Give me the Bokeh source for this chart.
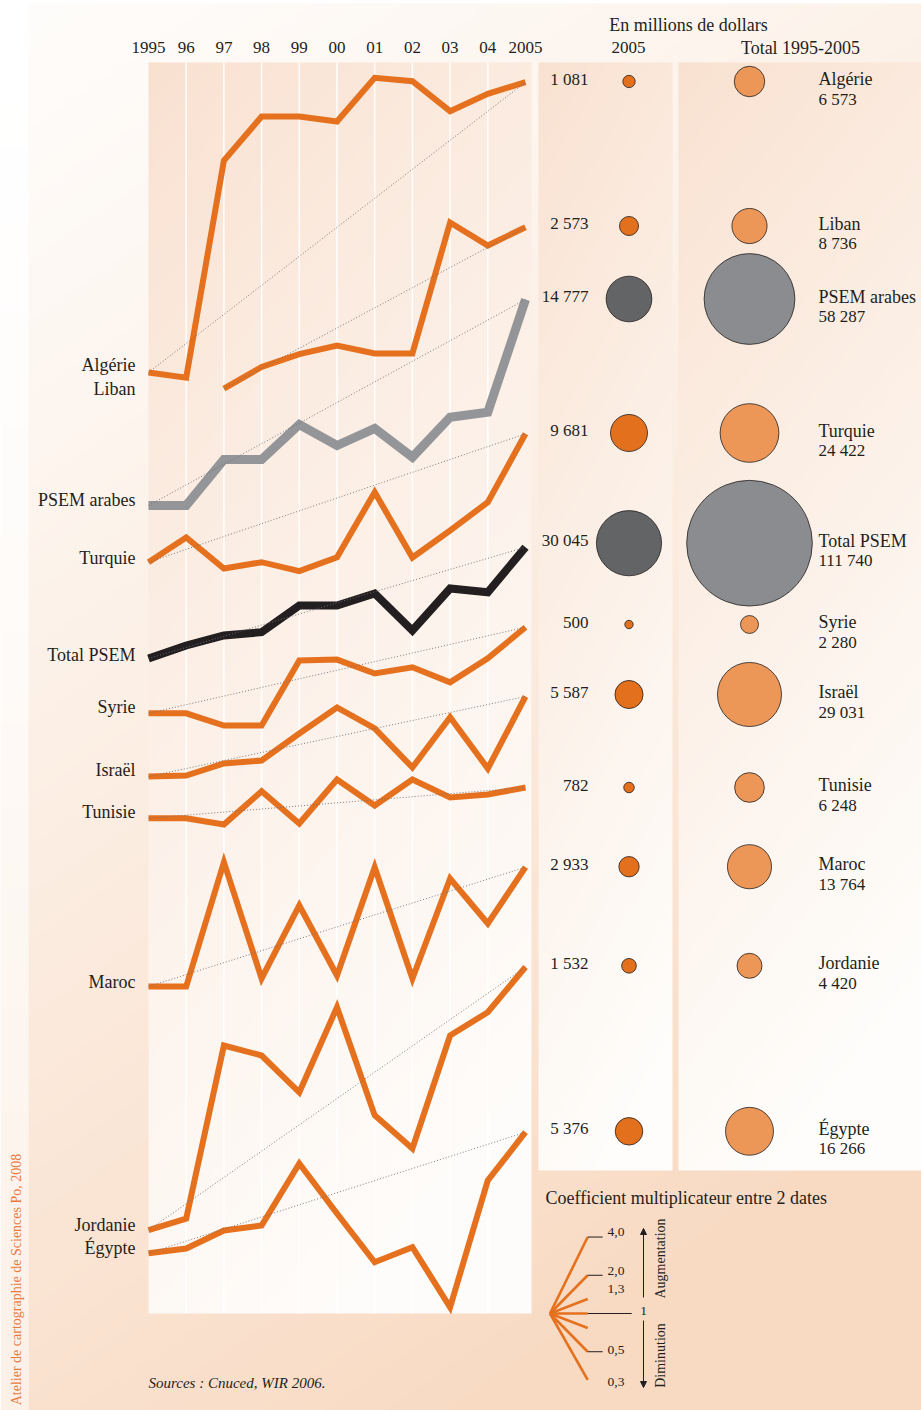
import numpy as np
from bokeh.plotting import figure
from bokeh.models import Range1d, Arrow, NormalHead
from bokeh.embed import file_html
from bokeh.resources import INLINE
from bokeh.core.properties import value

# ---------------------------------------------------------------- data
years = list(range(1995, 2006))
year_labels = ["1995", "96", "97", "98", "99", "00", "01", "02", "03", "04", "2005"]

countries = ["Algérie", "Liban", "PSEM arabes", "Turquie", "Total PSEM", "Syrie",
             "Israël", "Tunisie", "Maroc", "Jordanie", "Égypte"]

# Flux entrants d'IDE, en millions de dollars (échelle log)
ide_algerie = [5.6, 5.1, 261, 580, 580, 530, 1171, 1101, 639, 876, 1081]
ide_liban = [None, None, 138, 204, 258, 301, 261, 261, 2802, 1847, 2573]
ide_psem_arabes = [353, 353, 812, 812, 1533, 1047, 1426, 847, 1749, 1915, 14777]
ide_turquie = [944, 1477, 842, 944, 802, 1033, 3357, 1027, 1677, 2801, 9681]
ide_total_psem = [3993, 5056, 6060, 6436, 10441, 10441, 12976, 6634, 14208, 13283, 30045]
ide_syrie = [105, 105, 84, 84, 273, 278, 216, 242, 184, 284, 500]
ide_israel = [1310, 1334, 1659, 1750, 2857, 4577, 3128, 1542, 3839, 1514, 5587]
ide_tunisie = [448, 448, 400, 731, 407, 904, 564, 904, 652, 689, 782]
ide_maroc = [337, 337, 3212, 390, 1465, 412, 2933, 390, 2390, 1057, 2933]
ide_jordanie = [13, 16, 369, 308, 158, 739, 104, 57, 442, 675, 1532]
ide_egypte = [599, 653, 905, 990, 3048, 1231, 509, 668, 225, 2240, 5376]

total_1995_2005 = [6573, 8736, 58287, 24422, 111740, 2280, 29031, 6248, 13764, 4420, 16266]

coef_values = [4.0, 2.0, 1.3, 1.0, 1 / 1.3, 0.5, 0.3]
coef_labels = ["4,0", "2,0", "1,3", "1", "", "0,5", "0,3"]

series = [ide_algerie, ide_liban, ide_psem_arabes, ide_turquie, ide_total_psem, ide_syrie,
          ide_israel, ide_tunisie, ide_maroc, ide_jordanie, ide_egypte]

# ---------------------------------------------------------------- layout / style
W, H = 921, 1410
PX_DECADE = 127.0          # pixels per decade (log scale)
X_1995, X_STEP = 148.0, 37.7
LINE_END_Y = [81.7, 226.7, 299, 433.3, 546.7, 626.7, 696, 787, 866.7, 966.5, 1131.7]
ROW_Y = [81, 225.5, 298.5, 432.5, 542.7, 624, 694, 787, 866.2, 965.3, 1130.8]
LABEL_DY = [-7, 0, -5, -4, -4, -6, -6, -6, -5, -5, -5]
ORANGE = "#e5711f"
INK = "#231f20"
LINE_COLOR = [ORANGE, ORANGE, "#939598", ORANGE, INK] + [ORANGE] * 6
LINE_W = [6, 6, 9, 6, 8] + [6] * 6
COL2_FILL = ["#e2701d", "#e2701d", "#636466", "#e2701d", "#636466"] + ["#e2701d"] * 6
COL3_FILL = ["#ec9657", "#ec9657", "#8b8c8f", "#ec9657", "#8b8c8f"] + ["#ec9657"] * 6
R_SCALE = 0.188
FONT = value("Liberation Serif")


def fmt(v):
    return f"{int(round(v)):,}".replace(",", " ")


def year_x(yr):
    return X_1995 + (yr - 1995) * X_STEP


p = figure(width=W, height=H, x_range=Range1d(0, W), y_range=Range1d(-H, 0),
           output_backend="svg", toolbar_location=None, x_axis_type=None, y_axis_type=None,
           min_border=0, background_fill_color="white", border_fill_color="white",
           outline_line_color=None)
p.grid.visible = False


def grad(x0, y0, x1, y1, c0, c1, fx, fy, gamma=1.0, step=3):
    w, h = x1 - x0, y1 - y0
    nx, ny = int(np.ceil(w / step)), int(np.ceil(h / step))
    xs = (np.arange(nx) + 0.5) / nx
    ys = (np.arange(ny) + 0.5) / ny
    t = np.clip(fx * xs[None, :] + fy * ys[:, None], 0, 1) ** gamma
    c0 = np.array(c0, float)
    c1 = np.array(c1, float)
    rgb = c0 + (c1 - c0) * t[..., None]
    img = np.empty((ny, nx), dtype=np.uint32)
    v = img.view(np.uint8).reshape(ny, nx, 4)
    v[..., :3] = np.round(rgb).astype(np.uint8)
    v[..., 3] = 255
    img = np.ascontiguousarray(img[::-1])
    p.image_rgba(image=[img], x=x0, y=-y1, dw=w, dh=h)


# backgrounds
grad(0, 0, 28, 1410, (255, 255, 255), (252, 240, 231), 0, 1, 1.5)
grad(28, 3, 921, 1410, (254, 252, 250), (248, 217, 193), 0.35, 0.8, 1.2)
grad(148, 62, 531, 1313, (249, 224, 207), (254, 252, 250), 0.3, 0.85, 0.8)
grad(538, 62, 672, 1170, (249, 225, 208), (254, 253, 251), 0.2, 0.9, 0.9)
grad(678, 62, 921, 1170, (249, 225, 208), (254, 253, 251), 0.25, 0.9, 0.9)

# vertical white year lines
gx = [year_x(y) for y in years[1:-1]]
p.segment(x0=gx, y0=[-62] * len(gx), x1=gx, y1=[-1313] * len(gx),
          line_color="white", line_width=1.5, line_alpha=0.95)

# series lines
paths = []
for i, vals in enumerate(series):
    v05 = vals[-1]
    xs = [year_x(yr) for yr, v in zip(years, vals) if v is not None]
    ys = [-(LINE_END_Y[i] - PX_DECADE * (np.log10(v) - np.log10(v05))) for v in vals if v is not None]
    paths.append((xs, ys))
    p.line(xs, ys, line_color=LINE_COLOR[i], line_width=LINE_W[i], line_join="miter")

for xs, ys in paths:
    p.line([xs[0], xs[-1]], [ys[0], ys[-1]], line_color="#6d6e71", line_width=0.9,
           line_dash="1 2")

# left labels
p.text(x=[135] * len(countries), y=[ys[0] - LABEL_DY[i] for i, (xs, ys) in enumerate(paths)],
       text=countries, text_font=FONT, text_font_size="18px", text_align="right",
       text_baseline="middle", text_color=INK)

# header
p.text(x=[year_x(y) for y in years], y=[-47] * len(years), text=year_labels, text_font=FONT,
       text_font_size="17px", text_align="center", text_baseline="middle", text_color=INK)
p.text(x=[688], y=[-24], text=["En millions de dollars"], text_font=FONT, text_font_size="18px",
       text_align="center", text_baseline="middle", text_color=INK)
p.text(x=[628], y=[-47], text=["2005"], text_font=FONT, text_font_size="17px",
       text_align="center", text_baseline="middle", text_color=INK)
p.text(x=[800], y=[-47], text=["Total 1995-2005"], text_font=FONT, text_font_size="18px",
       text_align="center", text_baseline="middle", text_color=INK)

# bubbles
v2005 = [s[-1] for s in series]
ry = [-y for y in ROW_Y]
p.circle(x=[628.5] * 11, y=ry, radius=[R_SCALE * np.sqrt(v) for v in v2005],
         fill_color=COL2_FILL, line_color=INK, line_width=0.8)
p.circle(x=[749] * 11, y=ry, radius=[R_SCALE * np.sqrt(v) for v in total_1995_2005],
         fill_color=COL3_FILL, line_color=INK, line_width=0.8)

p.text(x=[588] * 11, y=[y + 2.5 for y in ry], text=[fmt(v) for v in v2005], text_font=FONT,
       text_font_size="17px", text_align="right", text_baseline="middle", text_color=INK)
p.text(x=[818] * 11, y=[y + 2.5 for y in ry], text=countries, text_font=FONT,
       text_font_size="18px", text_align="left", text_baseline="middle", text_color=INK)
p.text(x=[818] * 11, y=[y - 17.5 for y in ry], text=[fmt(v) for v in total_1995_2005],
       text_font=FONT, text_font_size="17px", text_align="left", text_baseline="middle",
       text_color=INK)

# legend: coefficient fan
OX, OY = 549.5, 1313
ends = [(OX + X_STEP, OY - PX_DECADE * np.log10(r)) for r in coef_values]
p.segment(x0=[OX] * len(ends), y0=[-OY] * len(ends), x1=[e[0] for e in ends],
          y1=[-e[1] for e in ends], line_color=ORANGE, line_width=2.6)
tick_len = {"4,0": 15, "2,0": 15, "1": 44, "0,5": 15}
for (ex, ey), lab in zip(ends, coef_labels):
    if lab in tick_len:
        p.segment(x0=[ex], y0=[-ey], x1=[ex + tick_len[lab]], y1=[-ey], line_color=INK, line_width=1)
lab_dy = {"4,0": -5, "2,0": -4, "1,3": -10, "1": -3, "0,5": -2, "0,3": 2}
lx, ly, lt = [], [], []
for (ex, ey), lab in zip(ends, coef_labels):
    if lab and lab != "1":
        lx.append(607)
        ly.append(-(ey + lab_dy[lab]))
        lt.append(lab)
p.text(x=lx, y=ly, text=lt, text_font=FONT, text_font_size="13.5px", text_align="left",
       text_baseline="middle", text_color=INK)
p.text(x=[643], y=[-(OY + lab_dy["1"])], text=["1"], text_font=FONT, text_font_size="13.5px",
       text_align="center", text_baseline="middle", text_color=INK)

p.add_layout(Arrow(end=NormalHead(size=6, fill_color=INK, line_color=INK), x_start=643,
                   y_start=-1297, x_end=643, y_end=-1228, line_color=INK, line_width=1))
p.add_layout(Arrow(end=NormalHead(size=6, fill_color=INK, line_color=INK), x_start=643,
                   y_start=-1320, x_end=643, y_end=-1387, line_color=INK, line_width=1))
p.text(x=[660, 660], y=[-1258, -1355], text=["Augmentation", "Diminution"], text_font=FONT,
       text_font_size="14px", text_align="center", text_baseline="middle", text_color=INK,
       angle=np.pi / 2)
p.text(x=[545], y=[-1197], text=["Coefficient multiplicateur entre 2 dates"], text_font=FONT,
       text_font_size="18px", text_align="left", text_baseline="middle", text_color=INK)

# sources & credit
p.text(x=[148], y=[-1382], text=["Sources : Cnuced, WIR 2006."], text_font=FONT,
       text_font_size="15px", text_font_style="italic", text_align="left",
       text_baseline="middle", text_color=INK)
p.text(x=[16], y=[-1279], text=["Atelier de cartographie de Sciences Po, 2008"], text_font=FONT,
       text_font_size="14px", text_align="center", text_baseline="middle",
       text_color="#e97a3f", angle=np.pi / 2)

open("out.html", "w").write(file_html(p, INLINE))
